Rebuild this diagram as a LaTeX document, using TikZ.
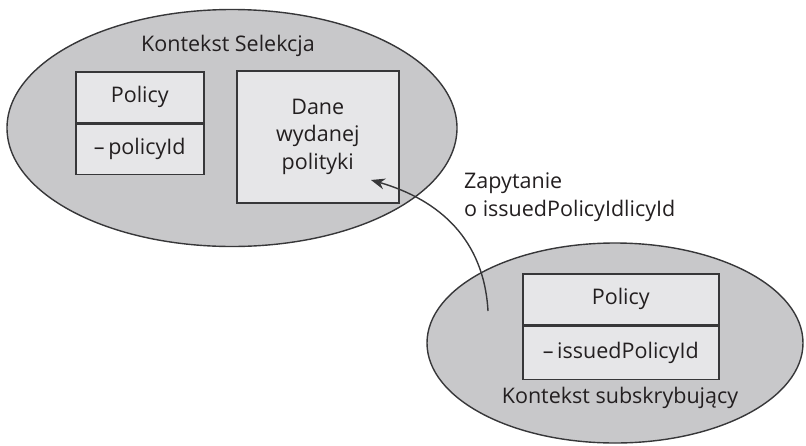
\documentclass[tikz,border=0pt]{standalone}
\usepackage{fontspec}
\setmainfont{Open Sans}
\usetikzlibrary{shapes.geometric,arrows.meta}
\definecolor{ctxfill}{RGB}{200,200,202}
\definecolor{boxfill}{RGB}{230,230,232}
\definecolor{linec}{RGB}{55,55,57}
\definecolor{textc}{RGB}{35,31,32}
\tikzset{
  ctx/.style={ellipse,draw=linec,fill=ctxfill,line width=1.4pt,inner sep=0pt},
  cls/.style={rectangle,draw=linec,fill=boxfill,line width=1.6pt,inner sep=0pt,anchor=north west,text=textc},
  lbl/.style={text=textc,inner sep=0pt},
  conn/.style={draw=linec,line width=1.4pt,-{Stealth[length=14pt,width=11pt]}}
}
\begin{document}
\begin{tikzpicture}[x=1pt,y=-1pt,font=\fontsize{21.5}{27.5}\selectfont]
\useasboundingbox (0,0) rectangle (806,445);
\node[ctx,minimum width=450pt,minimum height=237pt] (sel) at (232,128) {};
\node[ctx,minimum width=376pt,minimum height=200pt] (sub) at (615,343) {};
\node[lbl] (selname) at (228,46) {Kontekst Selekcja};
\node[cls,minimum width=128pt,minimum height=51pt] (p1h) at (75,71) {Policy};
\node[cls,minimum width=128pt,minimum height=50pt,anchor=north] (p1a) at (p1h.south) {--\,policyId};
\node[cls,minimum width=162pt,minimum height=132pt,align=center] (dane) at (236,70) {Dane\\wydanej\\polityki};
\node[cls,minimum width=196pt,minimum height=51pt] (p2h) at (522,273) {Policy};
\node[cls,minimum width=196pt,minimum height=53pt,anchor=north] (p2a) at (p2h.south) {--\,issuedPolicyId};
\node[lbl] (subname) at (620,398) {Kontekst subskrybujący};
\coordinate (qstart) at (488,311);
\coordinate (qtip) at (371,180);
\draw[conn] (qstart) .. controls (484,240) and (440,200) .. (qtip);
\node[lbl,anchor=north west,align=left] (qlabel) at (464,173) {Zapytanie\\o issuedPolicyIdlicyId};
\end{tikzpicture}
\end{document}
